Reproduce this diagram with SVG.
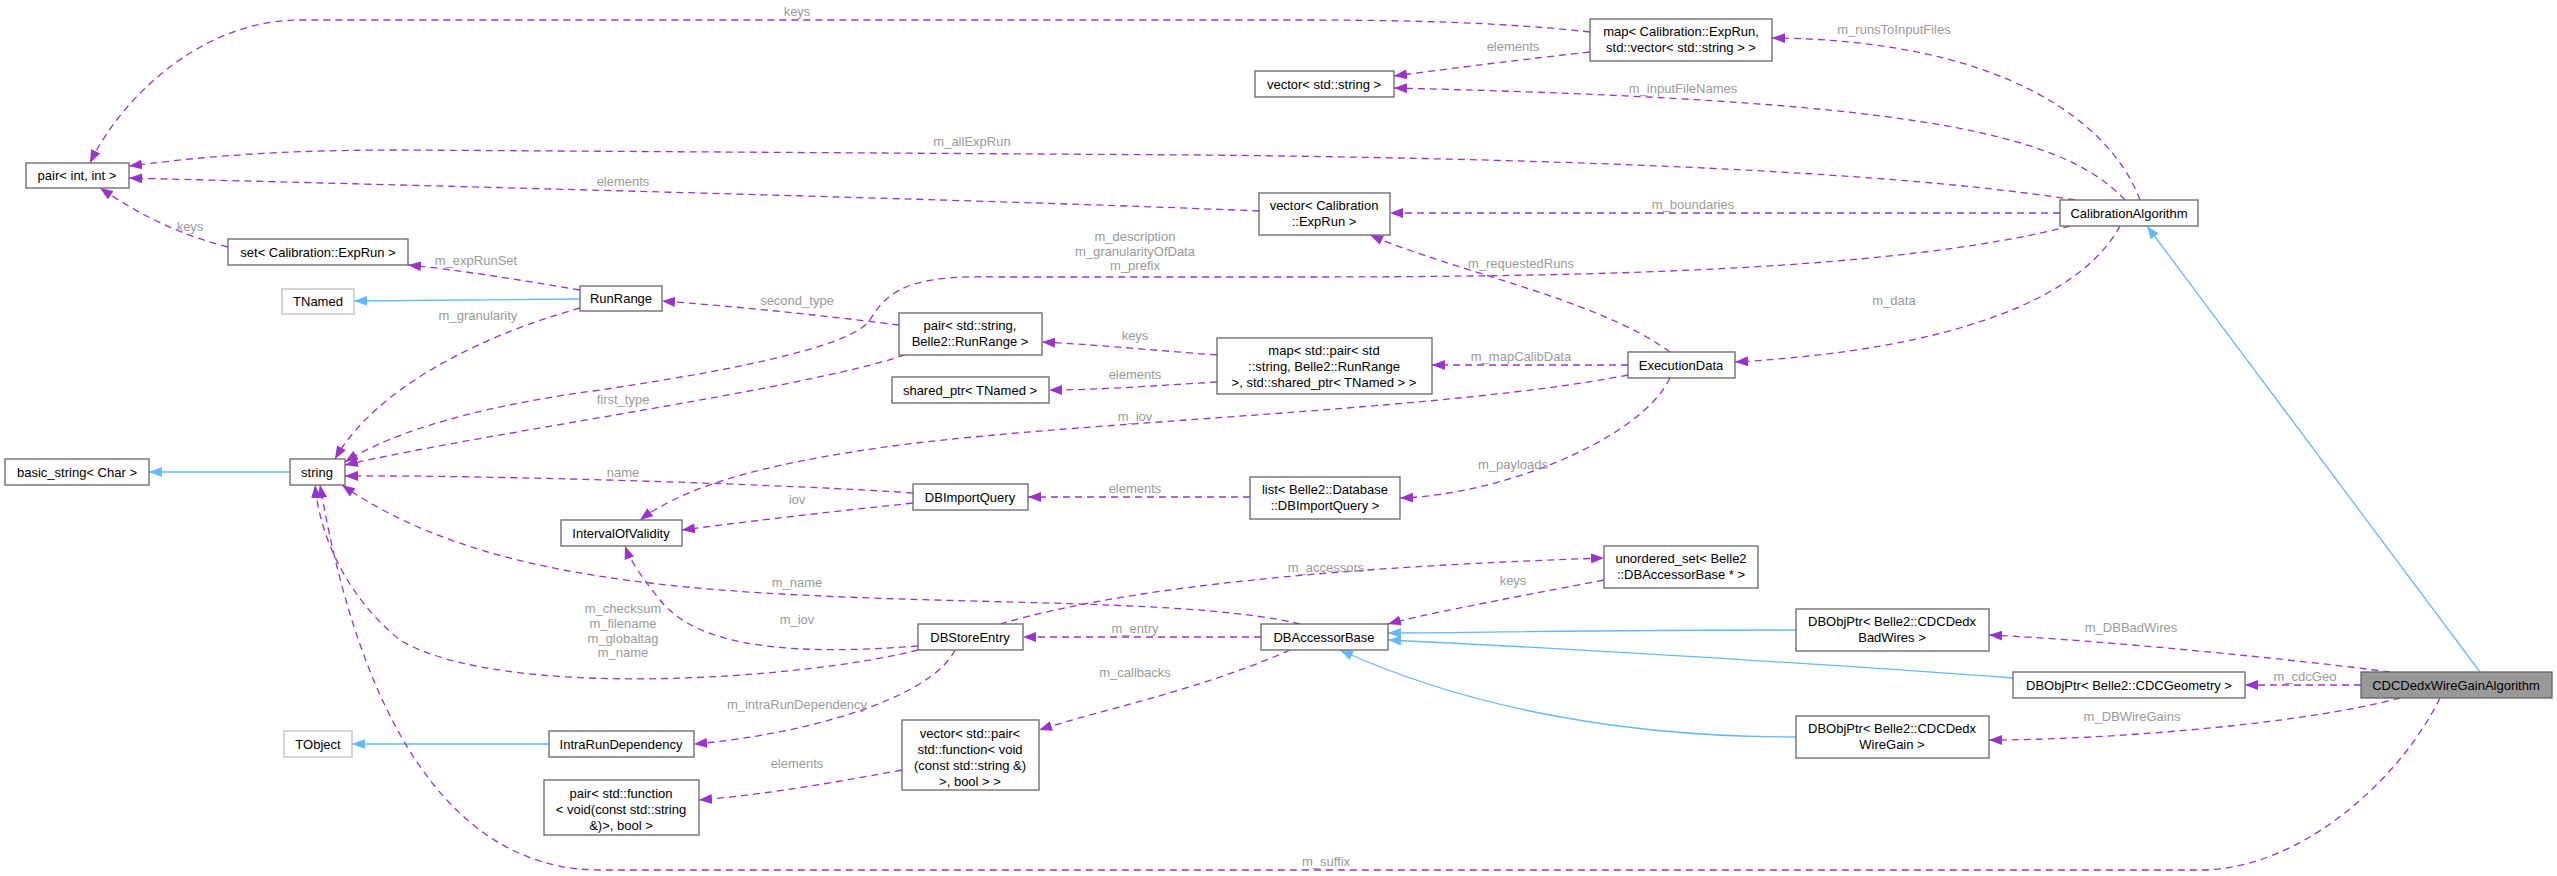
<svg xmlns="http://www.w3.org/2000/svg" width="2557" height="876" viewBox="0 0 2557 876">
<defs>
<style>
.n rect{fill:#fff;stroke:#666;stroke-width:1.3}
.n.g rect{stroke:#bfbfbf}
.n.h rect{fill:#999}
text{font-family:"Liberation Sans",Arial,sans-serif;font-size:13px;fill:#000}
.n text{text-anchor:middle}
.e path{fill:none;stroke:#9a32cd;stroke-width:1.3;stroke-dasharray:7,5;marker-end:url(#ap)}
.e path.b{stroke:#63b8ff;stroke-dasharray:none;marker-end:url(#ab)}
.l text{fill:#9a9a9a;text-anchor:middle}
</style>
<marker id="ap" markerWidth="14" markerHeight="10" refX="13" refY="5" orient="auto" markerUnits="userSpaceOnUse"><path d="M0,0 L13,5 L0,10 z" fill="#9a32cd"/></marker>
<marker id="ab" markerWidth="14" markerHeight="10" refX="13" refY="5" orient="auto" markerUnits="userSpaceOnUse"><path d="M0,0 L13,5 L0,10 z" fill="#63b8ff"/></marker>
</defs>
<rect width="2557" height="876" fill="#fff"/>
<g id="edges" class="e">
<path d="M1590,32 C1500,22 1400,20 1300,20 L300,20 C200,20 120,100 90,163"/>
<path d="M1590,52 C1500,62 1440,70 1394,76"/>
<path d="M2140,200 C2110,120 2000,40 1772,38"/>
<path d="M2125,200 C2060,130 1900,100 1394,88"/>
<path d="M2075,200 C1950,180 1700,160 1200,155 L400,150 C250,150 180,160 129,166"/>
<path d="M1259,211 C1000,200 400,185 129,178"/>
<path d="M2060,213 L1390,213"/>
<path d="M228,247 C180,235 140,215 100,188"/>
<path d="M580,290 C520,280 460,270 408,265"/>
<path class="b" d="M580,299 L354,301"/>
<path d="M580,308 C500,330 380,380 335,459"/>
<path d="M899,325 C820,315 720,305 662,301"/>
<path d="M905,355 C800,390 500,430 345,465"/>
<path d="M2070,226 C1900,270 1600,277 1300,277 L1000,277 C920,275 890,285 870,320 C850,350 700,375 600,390 C450,410 380,440 345,462"/>
<path d="M1670,352 C1600,300 1450,270 1370,235"/>
<path d="M2120,226 C2080,300 1950,350 1735,362"/>
<path d="M1217,355 C1150,350 1100,345 1042,342"/>
<path d="M1217,382 C1150,386 1100,390 1049,390"/>
<path d="M1628,365 L1432,365"/>
<path d="M1628,375 C1450,410 1100,420 900,445 C750,465 680,490 640,520"/>
<path d="M1670,378 C1640,440 1500,495 1400,498"/>
<path d="M1250,497 L1028,497"/>
<path d="M913,493 C800,485 500,475 345,476"/>
<path d="M913,503 C800,515 720,525 682,530"/>
<path class="b" d="M290,472 L149,472"/>
<path d="M1300,624 C1200,600 1000,605 800,595 C600,585 450,560 342,485"/>
<path d="M918,646 C800,655 700,650 660,600 C640,575 630,560 625,546"/>
<path d="M918,650 C800,680 500,700 400,640 C350,600 320,540 315,485"/>
<path d="M1000,624 C1150,580 1400,565 1604,558"/>
<path d="M1604,580 C1500,600 1420,615 1388,624"/>
<path d="M1261,637 L1023,637"/>
<path d="M1290,650 C1200,690 1100,710 1039,730"/>
<path d="M955,650 C930,700 800,735 694,744"/>
<path class="b" d="M549,744 L352,744"/>
<path d="M902,770 C820,785 760,795 699,800"/>
<path class="b" d="M1796,630 C1600,630 1450,633 1388,633"/>
<path class="b" d="M2013,678 C1800,662 1500,645 1388,640"/>
<path class="b" d="M1796,737 C1600,737 1450,700 1340,650"/>
<path class="b" d="M2480,672 L2147,226"/>
<path d="M2390,672 C2300,660 2100,640 1989,635"/>
<path d="M2361,685 L2245,685"/>
<path d="M2400,698 C2300,725 2100,740 1989,740"/>
<path d="M2440,698 C2400,780 2300,870 2200,870 L600,870 C400,870 340,600 320,485"/>
</g>
<g id="labels" class="l">
<text x="797" y="16">keys</text>
<text x="1513" y="51">elements</text>
<text x="1894" y="34">m_runsToInputFiles</text>
<text x="1683" y="93">m_inputFileNames</text>
<text x="972" y="146">m_allExpRun</text>
<text x="623" y="186">elements</text>
<text x="1693" y="209">m_boundaries</text>
<text x="190" y="231">keys</text>
<text x="476" y="265">m_expRunSet</text>
<text x="797" y="305">second_type</text>
<text x="478" y="320">m_granularity</text>
<text x="623" y="404">first_type</text>
<text x="1135" y="241">m_description</text>
<text x="1135" y="256">m_granularityOfData</text>
<text x="1135" y="270">m_prefix</text>
<text x="1521" y="268">m_requestedRuns</text>
<text x="1894" y="305">m_data</text>
<text x="1135" y="340">keys</text>
<text x="1521" y="361">m_mapCalibData</text>
<text x="1135" y="379">elements</text>
<text x="1135" y="421">m_iov</text>
<text x="1513" y="469">m_payloads</text>
<text x="1135" y="493">elements</text>
<text x="623" y="477">name</text>
<text x="797" y="504">iov</text>
<text x="797" y="587">m_name</text>
<text x="1326" y="572">m_accessors</text>
<text x="1513" y="585">keys</text>
<text x="623" y="613">m_checksum</text>
<text x="623" y="628">m_filename</text>
<text x="623" y="643">m_globaltag</text>
<text x="623" y="657">m_name</text>
<text x="797" y="624">m_iov</text>
<text x="1135" y="633">m_entry</text>
<text x="1135" y="677">m_callbacks</text>
<text x="797" y="709">m_intraRunDependency</text>
<text x="797" y="768">elements</text>
<text x="2131" y="632">m_DBBadWires</text>
<text x="2305" y="681">m_cdcGeo</text>
<text x="2132" y="721">m_DBWireGains</text>
<text x="1326" y="866">m_suffix</text>
</g>
<g id="n_mapER" class="n"><rect x="1590" y="19" width="182" height="42"/><text x="1681" y="36">map&lt; Calibration::ExpRun,</text><text x="1681" y="52">std::vector&lt; std::string &gt; &gt;</text></g>
<g id="n_vecS" class="n"><rect x="1255" y="71" width="139" height="26"/><text x="1324" y="89">vector&lt; std::string &gt;</text></g>
<g id="n_pairII" class="n"><rect x="26" y="163" width="103" height="25"/><text x="77" y="180">pair&lt; int, int &gt;</text></g>
<g id="n_vecER" class="n"><rect x="1259" y="193" width="131" height="42"/><text x="1324" y="210">vector&lt; Calibration</text><text x="1324" y="226">::ExpRun &gt;</text></g>
<g id="n_calalg" class="n"><rect x="2060" y="200" width="138" height="26"/><text x="2129" y="218">CalibrationAlgorithm</text></g>
<g id="n_set" class="n"><rect x="228" y="239" width="180" height="26"/><text x="318" y="257">set&lt; Calibration::ExpRun &gt;</text></g>
<g id="n_tnamed" class="n g"><rect x="282" y="289" width="72" height="25"/><text x="318" y="306">TNamed</text></g>
<g id="n_runrange" class="n"><rect x="580" y="286" width="82" height="25"/><text x="621" y="303">RunRange</text></g>
<g id="n_pairSR" class="n"><rect x="899" y="313" width="143" height="42"/><text x="970" y="330">pair&lt; std::string,</text><text x="970" y="346">Belle2::RunRange &gt;</text></g>
<g id="n_mapP" class="n"><rect x="1217" y="338" width="215" height="56"/><text x="1324" y="355">map&lt; std::pair&lt; std</text><text x="1324" y="371">::string, Belle2::RunRange</text><text x="1324" y="387">&gt;, std::shared_ptr&lt; TNamed &gt; &gt;</text></g>
<g id="n_execdata" class="n"><rect x="1628" y="352" width="107" height="26"/><text x="1681" y="370">ExecutionData</text></g>
<g id="n_shared" class="n"><rect x="892" y="377" width="157" height="26"/><text x="970" y="395">shared_ptr&lt; TNamed &gt;</text></g>
<g id="n_basicstr" class="n"><rect x="5" y="459" width="144" height="26"/><text x="77" y="477">basic_string&lt; Char &gt;</text></g>
<g id="n_string" class="n"><rect x="290" y="459" width="55" height="26"/><text x="317" y="477">string</text></g>
<g id="n_dbiq" class="n"><rect x="913" y="484" width="115" height="26"/><text x="970" y="502">DBImportQuery</text></g>
<g id="n_list" class="n"><rect x="1250" y="477" width="150" height="42"/><text x="1325" y="494">list&lt; Belle2::Database</text><text x="1325" y="510">::DBImportQuery &gt;</text></g>
<g id="n_iov" class="n"><rect x="561" y="520" width="121" height="26"/><text x="621" y="538">IntervalOfValidity</text></g>
<g id="n_uset" class="n"><rect x="1604" y="546" width="154" height="42"/><text x="1681" y="563">unordered_set&lt; Belle2</text><text x="1681" y="579">::DBAccessorBase * &gt;</text></g>
<g id="n_dbse" class="n"><rect x="918" y="624" width="105" height="26"/><text x="970" y="642">DBStoreEntry</text></g>
<g id="n_dbab" class="n"><rect x="1261" y="624" width="127" height="26"/><text x="1324" y="642">DBAccessorBase</text></g>
<g id="n_badwires" class="n"><rect x="1796" y="609" width="193" height="42"/><text x="1892" y="626">DBObjPtr&lt; Belle2::CDCDedx</text><text x="1892" y="642">BadWires &gt;</text></g>
<g id="n_cdcgeo" class="n"><rect x="2013" y="672" width="232" height="26"/><text x="2129" y="690">DBObjPtr&lt; Belle2::CDCGeometry &gt;</text></g>
<g id="n_main" class="n h"><rect x="2361" y="672" width="191" height="26"/><text x="2456" y="690">CDCDedxWireGainAlgorithm</text></g>
<g id="n_wiregain" class="n"><rect x="1796" y="716" width="193" height="42"/><text x="1892" y="733">DBObjPtr&lt; Belle2::CDCDedx</text><text x="1892" y="749">WireGain &gt;</text></g>
<g id="n_tobject" class="n g"><rect x="284" y="731" width="68" height="26"/><text x="318" y="749">TObject</text></g>
<g id="n_intrarun" class="n"><rect x="549" y="731" width="145" height="26"/><text x="621" y="749">IntraRunDependency</text></g>
<g id="n_vecpf" class="n"><rect x="902" y="720" width="137" height="70"/><text x="970" y="738">vector&lt; std::pair&lt;</text><text x="970" y="754">std::function&lt; void</text><text x="970" y="770">(const std::string &amp;)</text><text x="970" y="786">&gt;, bool &gt; &gt;</text></g>
<g id="n_pairf" class="n"><rect x="544" y="780" width="155" height="55"/><text x="621" y="798">pair&lt; std::function</text><text x="621" y="814">&lt; void(const std::string</text><text x="621" y="830">&amp;)&gt;, bool &gt;</text></g>
</svg>
